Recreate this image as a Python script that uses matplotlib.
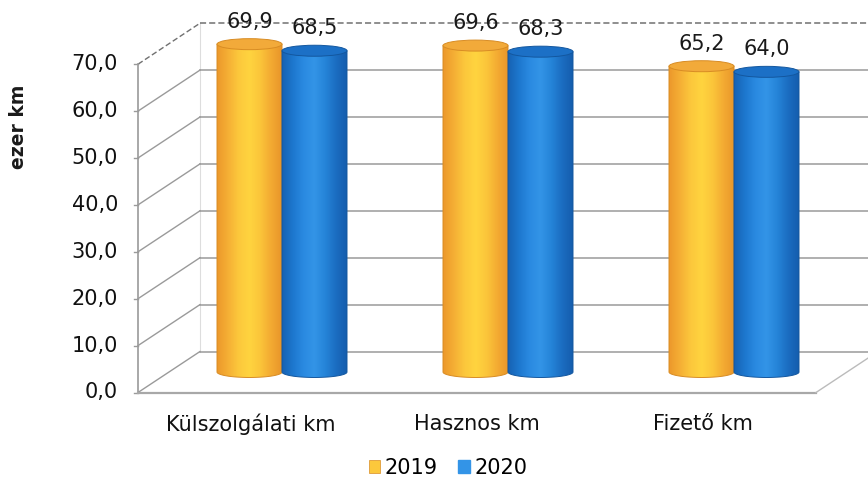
import numpy as np
import matplotlib
matplotlib.use("Agg")
import matplotlib.pyplot as plt
from matplotlib.colors import LinearSegmentedColormap
from matplotlib.patches import PathPatch, Ellipse, Patch
from matplotlib.path import Path

# ---------------- data ----------------
categories = ["Külszolgálati km", "Hasznos km", "Fizető km"]
series_names = ["2019", "2020"]
values_2019 = [69.9, 69.6, 65.2]
values_2020 = [68.5, 68.3, 64.0]
y_ticks = [0, 10, 20, 30, 40, 50, 60, 70]
y_tick_labels = ["0,0", "10,0", "20,0", "30,0", "40,0", "50,0", "60,0", "70,0"]
y_title = "ezer km"

# ---------------- style / geometry ----------------
W, H = 868, 483
PX_X = 226.0      # pixels per category unit
PX_Y = 4.69       # pixels per value unit
X0_PX = 282.0     # pixel x of first group centre
Y0_PX = 372.0     # pixel y (from top) of value 0 in bar plane
DX = 31.0 / PX_X  # half depth offset (x)
DY = 20.5 / PX_Y  # half depth offset (y)
BAR_W = 65.0 / PX_X
ELL_H = 11.0 / PX_Y
FONT = "DejaVu Sans"
FS = 15

orange_grad = ['#EC982B', '#F5AF35', '#FCC83C', '#FFD43F', '#FBC53A', '#F3AA32', '#E8952A']
blue_grad = ['#1762B3', '#1D77CE', '#2A8AE1', '#3394E7', '#2584D8', '#1B6DC1', '#155DAD']
orange_top, orange_edge = '#F2AA3A', '#D88C24'
blue_top, blue_edge = '#1C70C6', '#13579F'
grid_col = '#9a9a9a'

fig = plt.figure(figsize=(W / 100, H / 100), dpi=100)
ax = fig.add_axes([0, 0, 1, 1])
ax.axis('off')

n = len(categories)
xl, xr = -0.5, n - 0.5

# back wall gridlines
for v in y_ticks:
    ls = (0, (4, 2)) if v == y_ticks[-1] else '-'
    col = '#707070' if v == y_ticks[-1] else grid_col
    ax.plot([xl + DX, xr + DX + 0.2], [v + DY, v + DY], color=col, lw=1.1, ls=ls, zorder=1)
    # side wall diagonals
    ax.plot([xl - DX, xl + DX], [v - DY, v + DY], color=col, lw=1.0, ls=ls, zorder=1)
    # tick labels on front plane
    ax.text(xl - DX - 20 / PX_X, v - DY, y_tick_labels[y_ticks.index(v)],
            ha='right', va='center', fontsize=FS, family=FONT, color='#111111')
    ax.plot([xl - DX - 4 / PX_X, xl - DX], [v - DY, v - DY], color=grid_col, lw=1.0, zorder=1)

# front vertical axis
ax.plot([xl - DX, xl - DX], [y_ticks[0] - DY, y_ticks[-1] - DY], color=grid_col, lw=1.2, zorder=1)
# back wall left edge (faint)
ax.plot([xl + DX, xl + DX], [y_ticks[0] + DY, y_ticks[-1] + DY], color='#dddddd', lw=0.8, zorder=0.5)
# floor
ax.plot([xl - DX, xr - DX], [-DY, -DY], color='#a8a8a8', lw=1.6, zorder=1)
ax.plot([xr - DX, xr + DX], [-DY, DY], color='#bbbbbb', lw=1.0, zorder=1)

cmap_o = LinearSegmentedColormap.from_list('o', orange_grad)
cmap_b = LinearSegmentedColormap.from_list('b', blue_grad)
grad = np.linspace(0, 1, 256).reshape(1, -1)


def cylinder(xc, v, cmap, top_col, edge_col, z):
    x0, x1 = xc - BAR_W / 2, xc + BAR_W / 2
    th = np.linspace(np.pi, 2 * np.pi, 60)
    arc_x = xc + (BAR_W / 2) * np.cos(th)
    arc_y = (ELL_H / 2) * np.sin(th)
    verts = [(x0, v)] + list(zip(arc_x, arc_y)) + [(x1, v), (x0, v)]
    codes = [Path.MOVETO] + [Path.LINETO] * (len(verts) - 2) + [Path.CLOSEPOLY]
    body = PathPatch(Path(verts, codes), facecolor='none', edgecolor=edge_col,
                     lw=0.7, transform=ax.transData, zorder=z + 0.1)
    ax.add_patch(body)
    im = ax.imshow(grad, extent=[x0, x1, -ELL_H / 2, v], aspect='auto', cmap=cmap,
                   interpolation='bilinear', zorder=z)
    im.set_clip_path(body)
    top = Ellipse((xc, v), BAR_W, ELL_H, facecolor=top_col, edgecolor=edge_col,
                  lw=0.7, zorder=z + 0.2)
    ax.add_patch(top)


for i in range(n):
    xa = i - BAR_W / 2
    xb = i + BAR_W / 2
    cylinder(xa, values_2019[i], cmap_o, orange_top, orange_edge, 3 + i)
    cylinder(xb, values_2020[i], cmap_b, blue_top, blue_edge, 3.5 + i)
    for xc, v in ((xa, values_2019[i]), (xb, values_2020[i])):
        ax.text(xc, v + 4.8, f"{v:.1f}".replace('.', ','), ha='center', va='center',
                fontsize=FS, family=FONT, color='#1a1a1a', zorder=10)
    ax.text(i - DX, -DY - 6.8, categories[i], ha='center', va='center',
            fontsize=FS, family=FONT, color='#111111')

ax.set_xlim(-X0_PX / PX_X, (W - X0_PX) / PX_X)
ax.set_ylim(-(H - Y0_PX) / PX_Y, Y0_PX / PX_Y)
ax.set_aspect('auto')

fig.text(18 / W, 1 - 127 / H, y_title, rotation=90, ha='center', va='center',
         fontsize=13.5, fontweight='bold', family=FONT, color='#1a1a1a')

handles = [Patch(facecolor=orange_grad[2], edgecolor=orange_edge, lw=0.5),
           Patch(facecolor=blue_grad[3], edgecolor=blue_grad[3])]
fig.legend(handles, series_names, loc='center', bbox_to_anchor=(448 / W, 1 - 468 / H),
           ncol=2, frameon=False, prop={'family': FONT, 'size': FS},
           handlelength=0.55, handleheight=0.55, handletextpad=0.2, columnspacing=1.0)

fig.savefig('out.png', dpi=100)
